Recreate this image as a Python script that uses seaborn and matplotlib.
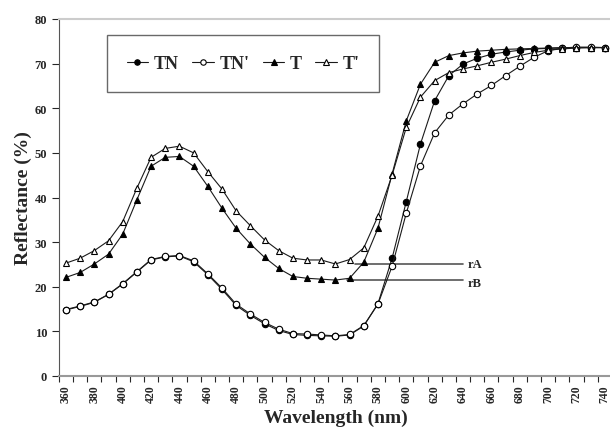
import numpy as np
import seaborn as sns
import matplotlib.pyplot as plt
import pandas as pd

# wavelengths (nm)
wavelength = list(range(360, 750, 10))

tn = [14.8, 15.6, 16.5, 18.3, 20.6, 23.3, 26.0, 26.7, 26.9, 25.6,
      22.7, 19.4, 15.8, 13.6, 11.7, 10.2, 9.3, 9.1, 9.0, 8.9,
      9.2, 11.2, 16.2, 26.4, 39.1, 52.0, 61.7, 67.3, 69.9, 71.2,
      72.1, 72.6, 73.0, 73.3, 73.4, 73.5, 73.6, 73.6, 73.6]
tn_p = [14.9, 15.7, 16.6, 18.3, 20.7, 23.4, 26.1, 26.8, 27.0, 25.8,
        22.9, 19.7, 16.1, 13.9, 12.0, 10.5, 9.5, 9.4, 9.2, 9.0,
        9.3, 11.3, 16.1, 24.6, 36.5, 47.1, 54.5, 58.5, 61.0, 63.2,
        65.1, 67.3, 69.4, 71.4, 72.9, 73.5, 73.7, 73.7, 73.6]
t = [22.1, 23.2, 25.1, 27.3, 31.8, 39.5, 47.0, 49.0, 49.2, 47.0,
     42.5, 37.6, 33.1, 29.6, 26.6, 24.1, 22.3, 21.9, 21.7, 21.5,
     21.9, 25.5, 33.1, 45.3, 57.2, 65.4, 70.3, 71.8, 72.4, 72.8,
     73.0, 73.2, 73.3, 73.4, 73.5, 73.6, 73.6, 73.6, 73.6]
t_p = [25.3, 26.4, 28.1, 30.3, 34.6, 42.1, 49.0, 51.0, 51.5, 50.0,
       45.8, 41.9, 37.0, 33.7, 30.5, 28.1, 26.4, 26.0, 26.0, 25.1,
       26.1, 28.7, 35.8, 45.0, 55.7, 62.5, 66.2, 68.0, 68.8, 69.5,
       70.3, 71.0, 71.8, 72.5, 73.0, 73.3, 73.5, 73.6, 73.6]

# reference lines rA / rB
ref_labels = ["rA", "rB"]
ref_levels = [25.2, 21.6]
ref_start = [564, 558]
ref_end = 640

sns.set_style("ticks")
plt.rcParams["font.family"] = ["Liberation Serif", "DejaVu Serif"]
plt.rcParams["font.weight"] = "bold"

fig = plt.figure(figsize=(6.1, 4.35), dpi=100)
ax = fig.add_axes([58.9 / 610, 58 / 435, 553 / 610, 357 / 435])

series = [
    ("TN", tn, "o", "black"),
    ("TN'", tn_p, "o", "white"),
    ("T", t, "^", "black"),
    ("T'", t_p, "^", "white"),
]
for name, vals, mk, face in series:
    sns.lineplot(x=wavelength, y=vals, ax=ax, color="#1a1a1a", lw=0.8,
                 marker=mk, markersize=4.6, markerfacecolor=face,
                 markeredgecolor="black", markeredgewidth=0.8, label=name)

for lab, lev, x0 in zip(ref_labels, ref_levels, ref_start):
    ax.plot([x0, ref_end], [lev, lev], color="#555555", lw=1.2, zorder=1)
    ax.text(ref_end + 3, lev - (0 if lab == "rA" else 0.7), lab,
            fontsize=9, fontweight="bold", va="center", ha="left")

ax.set_xlim(355, 745)
ax.set_ylim(0, 80)
ax.set_yticks(range(0, 81, 10))
ax.set_xticks(range(360, 741, 20))
ax.set_xticks(np.arange(355, 746, 10), minor=True)
ax.tick_params(axis="x", which="major", length=0, pad=6, rotation=90, labelsize=8.5)
ax.tick_params(axis="x", which="minor", length=4, width=0.8, direction="out")
ax.tick_params(axis="y", length=5, width=0.8, labelsize=9, direction="out")
for lbl in ax.get_xticklabels() + ax.get_yticklabels():
    lbl.set_fontweight("bold")

ax.spines["right"].set_visible(False)
ax.spines["top"].set_color("#cccccc")
ax.spines["top"].set_linewidth(1.5)
ax.spines["left"].set_color("#555555")
ax.spines["bottom"].set_color("#999999")
ax.spines["bottom"].set_linewidth(1.5)

ax.set_xlabel("Wavelength (nm)", fontsize=14, fontweight="bold", labelpad=5)
ax.set_ylabel("Reflectance (%)", fontsize=14, fontweight="bold", labelpad=2)

leg = ax.legend(loc="center", bbox_to_anchor=(0.333, 0.875), ncol=4,
                fontsize=13, handlelength=1.2, handletextpad=0.3,
                columnspacing=0.75, borderpad=1.1,
                markerscale=0.85, fancybox=False,
                frameon=True, edgecolor="#444444")
leg.get_frame().set_linewidth(1.0)
for txt in leg.get_texts():
    txt.set_fontweight("bold")

fig.savefig("out.png", dpi=100)
